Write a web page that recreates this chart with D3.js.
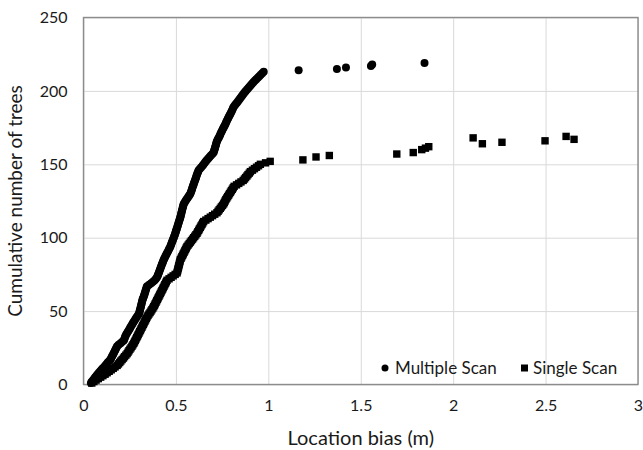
<!DOCTYPE html>
<html>
<head>
<meta charset="utf-8">
<script src="https://cdn.jsdelivr.net/npm/d3@7"></script>
<style>
  body { margin: 0; background: #fff; }
  text { font-family: Lato, "Open Sans", sans-serif; fill: #1a1a1a; }
  .grid line { stroke: #d9d9d9; stroke-width: 1; }
  .grid path { display: none; }
  .axis path, .axis line { display: none; }
</style>
</head>
<body>
<div id="chart"></div>
<script>
//Data

//Multiple scan: sorted location bias (m), the count is the rank
var multiBias = [
  0.040, 0.046, 0.052, 0.058, 0.063, 0.070, 0.076, 0.083, 0.090,
  0.097, 0.104, 0.112, 0.118, 0.125, 0.131, 0.139, 0.146,
  0.150, 0.154, 0.158, 0.162, 0.166, 0.170, 0.174, 0.178, 0.182,
  0.190, 0.199, 0.208, 0.218,
  0.221, 0.224, 0.227, 0.231, 0.236, 0.240, 0.245, 0.250, 0.254,
  0.259, 0.264, 0.268, 0.273, 0.278, 0.283, 0.288, 0.294, 0.300,
  0.302, 0.304, 0.306, 0.308, 0.310, 0.312, 0.314, 0.316, 0.318, 0.320, 0.323, 0.326,
  0.329, 0.331, 0.334, 0.336, 0.339, 0.341, 0.344,
  0.355, 0.366, 0.376, 0.385, 0.392, 0.398,
  0.401, 0.404, 0.407, 0.410, 0.413, 0.416, 0.419, 0.422, 0.425, 0.428, 0.431, 0.434,
  0.438, 0.442, 0.446, 0.450, 0.454, 0.458, 0.462, 0.466, 0.470,
  0.473, 0.476, 0.479, 0.482, 0.485, 0.488, 0.491, 0.494, 0.497,
  0.499, 0.502, 0.504, 0.507, 0.509, 0.512, 0.514, 0.517, 0.519, 0.522, 0.524,
  0.526, 0.528, 0.530, 0.532, 0.534, 0.536, 0.538, 0.540, 0.542,
  0.547, 0.552, 0.557, 0.563, 0.568, 0.573, 0.578,
  0.581, 0.584, 0.587, 0.589, 0.592, 0.595, 0.597, 0.600,
  0.603, 0.606, 0.609, 0.611, 0.614, 0.617, 0.620, 0.623,
  0.630, 0.637, 0.644, 0.650, 0.656, 0.662, 0.668,
  0.675, 0.682, 0.689, 0.697, 0.704,
  0.706, 0.709, 0.711, 0.713, 0.716, 0.718, 0.720, 0.723,
  0.727, 0.731, 0.735, 0.739, 0.742, 0.746, 0.750,
  0.754, 0.758, 0.762, 0.766, 0.770, 0.773, 0.777,
  0.781, 0.785, 0.789, 0.793, 0.797, 0.801, 0.805, 0.808, 0.812,
  0.818, 0.824, 0.830, 0.836, 0.842, 0.848, 0.854, 0.860, 0.866, 0.872, 0.878, 0.885,
  0.892, 0.899, 0.906, 0.913, 0.920, 0.928, 0.935, 0.943, 0.951, 0.959, 0.967, 0.975
]
//Multiple scan: the few scattered trees after 1 m
var multiTailBias  = [1.164, 1.371, 1.420, 1.555, 1.562, 1.845]
var multiTailCount = [214, 215, 216, 217, 218, 219]

//Single scan: sorted location bias (m), the count is the rank
var singleBias = [
  0.045, 0.056, 0.068, 0.080, 0.093, 0.105, 0.117, 0.128,
  0.139, 0.150, 0.161, 0.171, 0.182,
  0.189, 0.196, 0.202, 0.209, 0.216, 0.222, 0.229, 0.236,
  0.241, 0.246, 0.251, 0.257, 0.262, 0.267, 0.272,
  0.276, 0.280, 0.284, 0.288, 0.292, 0.296, 0.300, 0.304, 0.308,
  0.312, 0.316, 0.320, 0.324, 0.328, 0.332, 0.336, 0.340, 0.344,
  0.349, 0.354, 0.360, 0.365, 0.370, 0.375, 0.380,
  0.384, 0.388, 0.392, 0.396, 0.400, 0.404, 0.408, 0.412, 0.416,
  0.420, 0.424, 0.428, 0.432, 0.436, 0.440, 0.444, 0.448, 0.452,
  0.463, 0.474, 0.485, 0.496, 0.506,
  0.508, 0.510, 0.512, 0.514, 0.516, 0.518, 0.520, 0.522, 0.524,
  0.528, 0.532, 0.536, 0.540, 0.544, 0.548, 0.552, 0.556, 0.560,
  0.566, 0.572, 0.578, 0.584, 0.590, 0.596, 0.602, 0.608, 0.614,
  0.618, 0.623, 0.627, 0.632, 0.636, 0.641, 0.645, 0.650,
  0.662, 0.674, 0.686, 0.698, 0.710, 0.722,
  0.728, 0.734, 0.740, 0.746, 0.752, 0.758,
  0.762, 0.766, 0.770, 0.775, 0.780,
  0.785, 0.790, 0.795, 0.800, 0.805, 0.810, 0.815,
  0.828, 0.840, 0.852, 0.864,
  0.871, 0.877, 0.884, 0.890, 0.897, 0.903,
  0.914, 0.925, 0.936, 0.947, 0.957,
  0.985, 1.010
]
//Single scan: scattered trees after 1 m
var singleTailBias  = [1.187, 1.258, 1.330, 1.695, 1.784, 1.830, 1.850, 1.868, 2.108, 2.158, 2.264, 2.497, 2.611, 2.654]
var singleTailCount = [153, 155, 156, 157, 158, 160, 161, 162, 168, 164, 165, 166, 169, 167]

var xTicks = [0, 0.5, 1, 1.5, 2, 2.5, 3]
var yTicks = [0, 50, 100, 150, 200, 250]
var seriesNames = ["Multiple Scan", "Single Scan"]

//Build the point lists (count = rank for the dense part)
function toPoints(bias, tailBias, tailCount) {
  var pts = []
  for (i = 0; i < bias.length; i++) {
    pts.push({x: bias[i], y: i + 1})
  }
  for (i = 0; i < tailBias.length; i++) {
    pts.push({x: tailBias[i], y: tailCount[i]})
  }
  return pts
}
var multiPoints = toPoints(multiBias, multiTailBias, multiTailCount)
var singlePoints = toPoints(singleBias, singleTailBias, singleTailCount)

//Sizes
var width = 643
var height = 450
var margin = {top: 17.5, left: 83.5, right: 5, bottom: 65.5}
var plotW = width - margin.left - margin.right
var plotH = height - margin.top - margin.bottom

var svg = d3.select("#chart")
  .append("svg")
  .attr("width", width)
  .attr("height", height)

var g = svg.append("g")
  .attr("transform", "translate(" + margin.left + "," + margin.top + ")")

//Scales
var xScale = d3.scaleLinear().domain([0, 3]).range([0, plotW])
var yScale = d3.scaleLinear().domain([0, 250]).range([plotH, 0])

//Grid lines
g.append("g")
  .attr("class", "grid")
  .call(d3.axisBottom(xScale).tickValues(xTicks).tickSize(plotH).tickFormat(""))

g.append("g")
  .attr("class", "grid")
  .call(d3.axisLeft(yScale).tickValues(yTicks).tickSize(-plotW).tickFormat(""))

//Axes labels
var xAxis = g.append("g")
  .attr("class", "axis")
  .attr("transform", "translate(0," + plotH + ")")
  .call(d3.axisBottom(xScale).tickValues(xTicks).tickSize(0).tickPadding(15).tickFormat(d3.format("")))
xAxis.selectAll("text").style("font-size", "16px")

var yAxis = g.append("g")
  .attr("class", "axis")
  .call(d3.axisLeft(yScale).tickValues(yTicks).tickSize(0).tickPadding(16).tickFormat(d3.format("")))
yAxis.selectAll("text").style("font-size", "16px")

//Frame
g.append("rect")
  .attr("width", plotW)
  .attr("height", plotH)
  .attr("fill", "none")
  .attr("stroke", "#8c8c8c")
  .attr("stroke-width", 1.4)

//Axis titles
svg.append("text")
  .attr("x", margin.left + plotW / 2)
  .attr("y", 445)
  .attr("text-anchor", "middle")
  .style("font-size", "20px")
  .text("Location bias (m)")

svg.append("text")
  .attr("transform", "translate(22," + (margin.top + plotH / 2) + ") rotate(-90)")
  .attr("text-anchor", "middle")
  .style("font-size", "19px")
  .text("Cumulative number of trees")

//Markers
g.selectAll(".single")
  .data(singlePoints)
  .enter()
  .append("rect")
  .attr("class", "single")
  .attr("x", function(d) { return xScale(d.x) - 3.7 })
  .attr("y", function(d) { return yScale(d.y) - 3.7 })
  .attr("width", 7.4)
  .attr("height", 7.4)
  .attr("fill", "#000")

g.selectAll(".multi")
  .data(multiPoints)
  .enter()
  .append("circle")
  .attr("class", "multi")
  .attr("cx", function(d) { return xScale(d.x) })
  .attr("cy", function(d) { return yScale(d.y) })
  .attr("r", 4)
  .attr("fill", "#000")

//Legend
var legend = svg.append("g").attr("transform", "translate(385,368)")
legend.append("circle").attr("cx", 0).attr("cy", 0).attr("r", 3.5).attr("fill", "#000")
legend.append("text").attr("x", 10).attr("y", 6).style("font-size", "17px").text(seriesNames[0])
legend.append("rect").attr("x", 136).attr("y", -3.5).attr("width", 7).attr("height", 7).attr("fill", "#000")
legend.append("text").attr("x", 148).attr("y", 6).style("font-size", "17px").text(seriesNames[1])
</script>
</body>
</html>
